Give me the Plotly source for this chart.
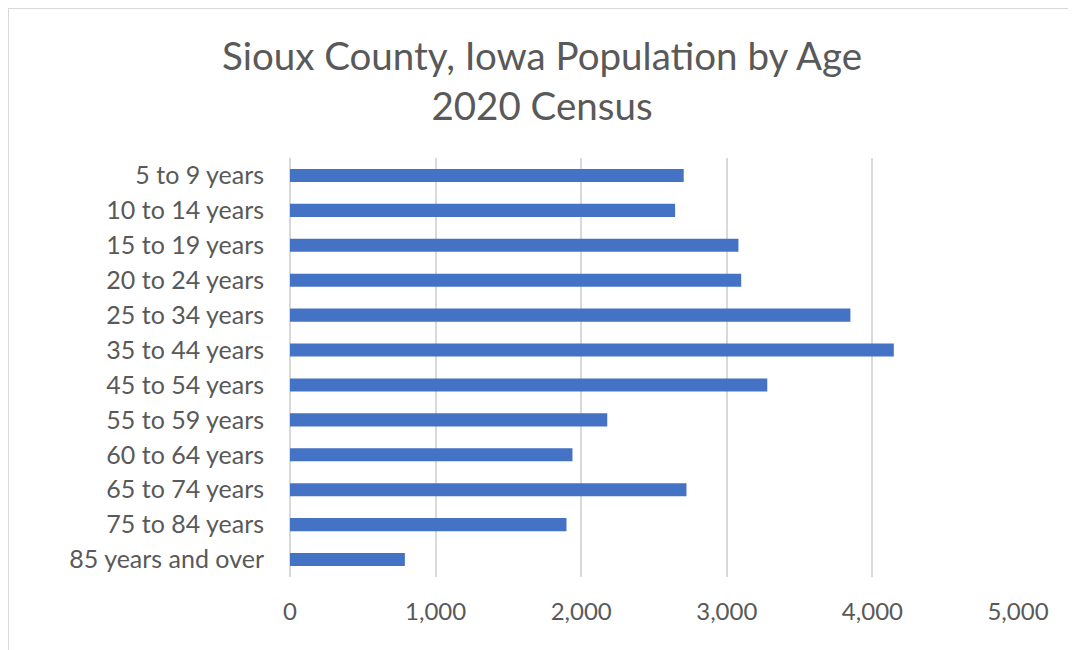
import plotly.graph_objects as go

categories = ["5 to 9 years", "10 to 14 years", "15 to 19 years", "20 to 24 years",
              "25 to 34 years", "35 to 44 years", "45 to 54 years", "55 to 59 years",
              "60 to 64 years", "65 to 74 years", "75 to 84 years", "85 years and over"]
population = [2704, 2645, 3080, 3099, 3849, 4147, 3278, 2179, 1940, 2723, 1899, 789]
tick_vals = [0, 1000, 2000, 3000, 4000, 5000]
tick_text = ["0", "1,000", "2,000", "3,000", "4,000", "5,000"]

# page body has an 8px margin, so the figure is sized to fit the window
W, H = 1068, 642
L, R, T, B = 282, 58, 150, 73
pw, ph = W - L - R, H - T - B

def px(x):
    return (x - L) / pw

def py(y):
    return (H - B - y) / ph

fig = go.Figure(go.Bar(
    x=population, y=categories, orientation="h",
    marker=dict(color="#4472C4", line=dict(width=0)),
    hoverinfo="x+y",
))

fig.update_layout(
    width=W, height=H,
    margin=dict(l=L, r=R, t=T, b=B),
    paper_bgcolor="white", plot_bgcolor="white",
    font=dict(family="Lato, Carlito, sans-serif", color="#595959"),
    title=dict(text="Sioux County, Iowa Population by Age<br>2020 Census",
               x=0.5, xanchor="center", y=1 - 62 / H, yanchor="top",
               font=dict(size=38.5, color="#595959")),
    bargap=0.625,
    showlegend=False,
    xaxis=dict(range=[0, 5000], tickvals=tick_vals, ticktext=tick_text,
               showgrid=True, gridcolor="#d9d9d9", gridwidth=2,
               zeroline=True, zerolinecolor="#d9d9d9", zerolinewidth=2,
               showline=False, ticks="",
               tickfont=dict(size=24, color="#595959"), ticklabelstandoff=18,
               fixedrange=True, automargin=False),
    yaxis=dict(autorange="reversed", showgrid=False, zeroline=False,
               showline=False, ticks="",
               tickfont=dict(size=25, color="#595959"), ticklabelstandoff=25,
               fixedrange=True, automargin=False),
    shapes=[dict(type="rect", xref="paper", yref="paper",
                 x0=px(0), x1=px(W + 20), y0=py(H + 20), y1=py(0),
                 line=dict(color="#d9d9d9", width=2), fillcolor="rgba(0,0,0,0)",
                 layer="below")],
)

fig.write_html("out.html")
